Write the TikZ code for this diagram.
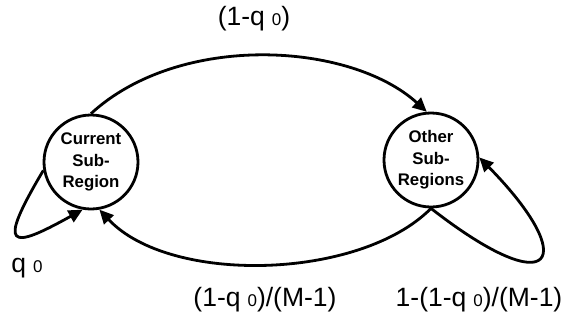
\documentclass[tikz,border=0pt]{standalone}
\usepackage{fontspec}
\setmainfont{Liberation Sans}
\usetikzlibrary{arrows.meta}
\tikzset{
  state/.style={circle,draw,line width=2.8pt,minimum size=94pt,inner sep=0pt,align=center,font=\fontsize{16.8}{21.5}\selectfont\bfseries},
  conn/.style={line width=2.8pt,-{Triangle[length=14pt,width=13pt]}},
  lbl/.style={font=\fontsize{26.5}{29}\selectfont,inner sep=0pt}
}
\newcommand{\qz}{q\hspace{7pt}{\fontsize{17}{18}\selectfont 0}}
\begin{document}
\begin{tikzpicture}[x=1pt,y=-1pt]
\useasboundingbox (0,0) rectangle (568,322);
\node[state] (L) at (91,162) {Current\\Sub-\\Region};
\node[state] (R) at (431,160) {Other\\Sub-\\Regions};
\draw[conn] (L.90) .. controls (180,32) and (350,42) .. (R.95);
\draw[conn] (R.270) .. controls (360,280) and (170,285) .. (L.-80);
\draw[conn] (L.190) .. controls (-4,250) and (10,250) .. (L.-100);
\draw[conn] (R.270) .. controls (555,305) and (580,260) .. (R.3);
\node[lbl] (t1) at (254,19) {(1-\qz)};
\node[lbl] (t2) at (27,268) {\qz};
\node[lbl] (t3) at (265,300) {(1-\qz)/(M-1)};
\node[lbl] (t4) at (479,300) {1-(1-\qz)/(M-1)};
\end{tikzpicture}
\end{document}
